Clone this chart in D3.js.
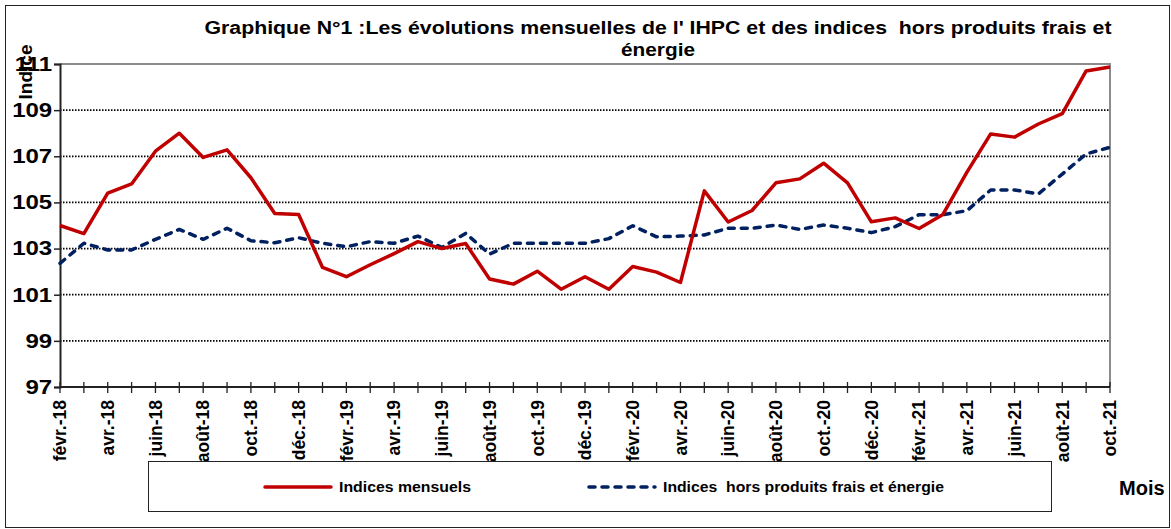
<!DOCTYPE html>
<html>
<head>
<meta charset="utf-8">
<script src="https://cdn.jsdelivr.net/npm/d3@7"></script>
<style>
  body { margin: 0; background: #fff; }
  svg text { font-family: "Liberation Sans", Arial, sans-serif; font-weight: bold; fill: #000; }
</style>
</head>
<body>
<div id="chart"></div>
<script>
// Months from févr.-18 to oct.-21
const monthNames = ["janv.", "févr.", "mars", "avr.", "mai", "juin", "juil.", "août", "sept.", "oct.", "nov.", "déc."];
const months = [];
for (let y = 2018; y <= 2021; y++) {
    for (let m = 0; m < 12; m++) {
        if (y === 2018 && m < 1) continue;
        if (y === 2021 && m > 9) continue;
        months.push(monthNames[m] + "-" + String(y).slice(2));
    }
}

const indicesMensuels = [
    104.0, 103.65, 105.4, 105.8, 107.22, 108.0, 106.95, 107.28, 106.07, 104.52, 104.48,
    102.18, 101.78, 102.3, 102.78, 103.3, 103.0, 103.22, 101.68, 101.46, 102.02, 101.24,
    101.78, 101.24, 102.22, 101.98, 101.53, 105.5, 104.15, 104.65, 105.85, 106.02, 106.7,
    105.85, 104.16, 104.33, 103.87, 104.48, 106.3, 107.97, 107.83, 108.4, 108.85, 110.7, 110.87
];
const indicesHorsPFE = [
    102.36, 103.23, 102.94, 102.94, 103.4, 103.83, 103.4, 103.88, 103.34, 103.25, 103.47,
    103.23, 103.08, 103.3, 103.23, 103.54, 103.05, 103.66, 102.76, 103.23, 103.23, 103.23,
    103.23, 103.43, 103.99, 103.51, 103.54, 103.59, 103.88, 103.88, 104.02, 103.83, 104.02,
    103.88, 103.69, 103.95, 104.47, 104.47, 104.64, 105.54, 105.54, 105.37, 106.23, 107.1, 107.39
];
const yTicks = [97, 99, 101, 103, 105, 107, 109, 111];

const svg = d3.select("#chart").append("svg")
    .attr("width", 1171)
    .attr("height", 529);

const margin = {top: 64, left: 60, right: 61, bottom: 142};
const width = 1171 - margin.left - margin.right;
const height = 529 - margin.top - margin.bottom;

// outer frame
svg.append("rect")
    .attr("x", 5.5).attr("y", 5.5)
    .attr("width", 1164).attr("height", 522)
    .attr("fill", "none").attr("stroke", "#222").attr("stroke-width", 1);

const chart = svg.append("g").attr("transform", `translate(${margin.left},${margin.top})`);

const x = d3.scaleLinear().domain([0, months.length - 1]).range([0, width]);
const y = d3.scaleLinear().domain([97, 111]).range([height, 0]);

// dotted grid
chart.append("g")
    .selectAll("line")
    .data(yTicks.filter(d => d > 97 && d < 111))
    .join("line")
    .attr("x1", 0).attr("x2", width)
    .attr("y1", d => y(d)).attr("y2", d => y(d))
    .attr("stroke", "#000")
    .attr("stroke-width", 1.7)
    .attr("stroke-dasharray", "1.5,1.5");

// grey plot border (top and right)
chart.append("path")
    .attr("d", `M0,${y(111)}H${width}V${height}`)
    .attr("fill", "none").attr("stroke", "#8c8c8c").attr("stroke-width", 2);

// y axis
const yAxis = chart.append("g")
    .call(d3.axisLeft(y).tickValues(yTicks).tickSize(6));
yAxis.select(".domain").attr("stroke", "#222").attr("stroke-width", 2);
yAxis.selectAll(".tick line").attr("stroke", "#222").attr("stroke-width", 1.5);
yAxis.selectAll("text")
    .attr("x", -6.5)
    .attr("transform", "scale(1.2,1)")
    .style("font-size", "20px")
    .attr("fill", "#000");

// x axis: ticks each month crossing the axis
const xAxisG = chart.append("g").attr("transform", `translate(0,${height})`);
xAxisG.append("line").attr("x1", 0).attr("x2", width)
    .attr("stroke", "#222").attr("stroke-width", 2);
xAxisG.selectAll(".mtick")
    .data(months)
    .join("line")
    .attr("class", "mtick")
    .attr("x1", (d, i) => x(i)).attr("x2", (d, i) => x(i))
    .attr("y1", -5).attr("y2", 6)
    .attr("stroke", "#222").attr("stroke-width", 1.3);
xAxisG.selectAll(".mlabel")
    .data(months.map((m, i) => ({m, i})).filter(d => d.i % 2 === 0))
    .join("text")
    .attr("class", "mlabel")
    .attr("transform", d => `translate(${x(d.i)},13) rotate(-90)`)
    .attr("text-anchor", "end")
    .attr("dy", "0.36em")
    .style("font-size", "17.5px")
    .text(d => d.m);

// lines
const line = d3.line()
    .x((d, i) => x(i))
    .y(d => y(d));

chart.append("path")
    .datum(indicesHorsPFE)
    .attr("d", line)
    .attr("fill", "none")
    .attr("stroke", "#002060")
    .attr("stroke-width", 3.5)
    .attr("stroke-dasharray", "6,7")
    .attr("stroke-linecap", "round")
    .attr("stroke-linejoin", "round");

chart.append("path")
    .datum(indicesMensuels)
    .attr("d", line)
    .attr("fill", "none")
    .attr("stroke", "#c00000")
    .attr("stroke-width", 3.5)
    .attr("stroke-linejoin", "round");

// title
const title = svg.append("text")
    .attr("text-anchor", "middle")
    .style("font-size", "18px")
    .style("white-space", "pre");
title.append("tspan").attr("x", 658).attr("y", 34)
    .attr("textLength", 907).attr("lengthAdjust", "spacingAndGlyphs")
    .text("Graphique N°1 :Les évolutions mensuelles de l' IHPC et des indices  hors produits frais et");
title.append("tspan").attr("x", 658).attr("y", 56)
    .attr("textLength", 74).attr("lengthAdjust", "spacingAndGlyphs")
    .text("énergie");

// y axis title
svg.append("text")
    .attr("transform", "translate(32,72) rotate(-90)")
    .attr("text-anchor", "middle")
    .style("font-size", "19px")
    .text("Indice");

// x axis title
svg.append("text")
    .attr("x", 1119).attr("y", 495)
    .style("font-size", "20px")
    .text("Mois");

// legend
const legend = svg.append("g");
legend.append("rect")
    .attr("x", 148.5).attr("y", 461.5)
    .attr("width", 903).attr("height", 50)
    .attr("fill", "#fff").attr("stroke", "#222").attr("stroke-width", 1);
const legendItems = [
    {label: "Indices mensuels", color: "#c00000", dash: null, x0: 265, len: 132},
    {label: "Indices  hors produits frais et énergie", color: "#002060", dash: "6,7", x0: 589, len: 281}
];
legendItems.forEach(it => {
    legend.append("line")
        .attr("x1", it.x0).attr("x2", it.x0 + 66)
        .attr("y1", 487).attr("y2", 487)
        .attr("stroke", it.color).attr("stroke-width", 3.5)
        .attr("stroke-linecap", "round")
        .attr("stroke-dasharray", it.dash);
    legend.append("text")
        .attr("x", it.x0 + 74).attr("y", 492)
        .attr("textLength", it.len).attr("lengthAdjust", "spacingAndGlyphs")
        .style("font-size", "15px")
        .style("white-space", "pre")
        .text(it.label);
});
</script>
</body>
</html>
